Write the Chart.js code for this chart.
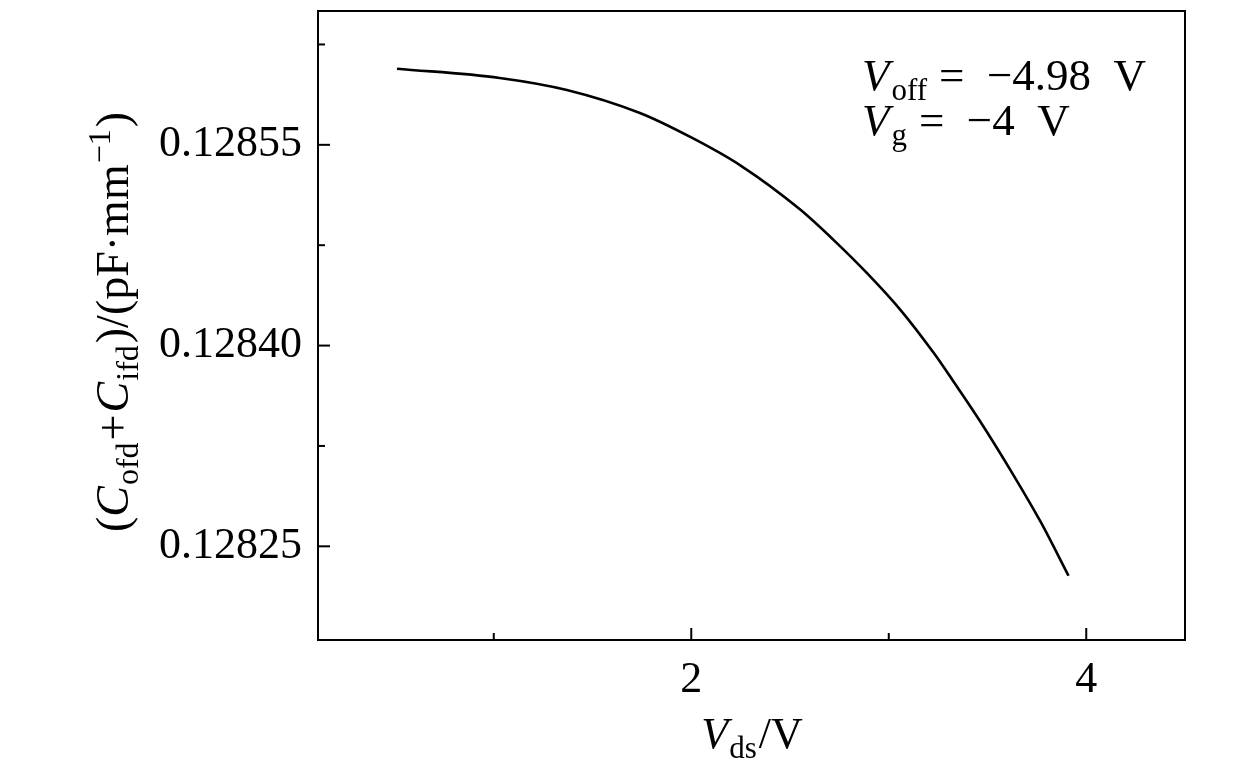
<!DOCTYPE html>
<html>
<head>
<meta charset="utf-8">
<script src="https://cdn.jsdelivr.net/npm/chart.js@4"></script>
<style>
  html, body { margin: 0; padding: 0; background: #fff; }
</style>
</head>
<body>
<canvas id="chart" width="1260" height="769"></canvas>
<script>
// Données
const vds = [0.51, 1.03, 1.37, 1.74, 2.00, 2.25, 2.55, 2.72, 2.89, 3.06, 3.23, 3.31, 3.46, 3.62, 3.77, 3.91];
const capa = [0.1286069, 0.1286000, 0.1285910, 0.1285738, 0.1285555, 0.1285345, 0.1285018, 0.128479,
  0.1284541, 0.1284265, 0.1283940, 0.128377, 0.128344, 0.128306, 0.128268, 0.128228];

const xMajor = [2, 4];
const xMinor = [1, 3];
const yMajor = [0.12825, 0.12840, 0.12855];
const yMinor = [0.128325, 0.128475, 0.128625];

const FONT = '"Liberation Serif", "DejaVu Serif", serif';

// Texte avec indices / exposants
function drawRich(ctx, parts, x, y, size, align) {
  const mesure = p => {
    ctx.font = (p.it ? 'italic ' : '') + Math.round(p.sub || p.sup ? size * 0.7 : size) + 'px ' + FONT;
    return ctx.measureText(p.t).width;
  };
  let total = 0;
  parts.forEach(p => total += mesure(p) + (p.gap || 0));
  let cx = align === 'center' ? x - total / 2 : x;
  parts.forEach(p => {
    const w = mesure(p);
    let dy = 0;
    if (p.sub) dy = size * 0.22;
    if (p.sup) dy = -size * 0.4;
    ctx.fillText(p.t, cx, y + dy);
    cx += w + (p.gap || 0);
  });
}

const cadre = {
  id: 'cadre',
  afterDraw(chart) {
    const ctx = chart.ctx;
    const a = chart.chartArea;
    const sx = chart.scales.x, sy = chart.scales.y;
    ctx.save();
    ctx.strokeStyle = '#000';
    ctx.lineWidth = 2;
    ctx.strokeRect(a.left, a.top, a.right - a.left, a.bottom - a.top);

    // graduations vers l'intérieur
    const trait = (x1, y1, x2, y2) => { ctx.beginPath(); ctx.moveTo(x1, y1); ctx.lineTo(x2, y2); ctx.stroke(); };
    xMajor.forEach(v => { const p = sx.getPixelForValue(v); trait(p, a.bottom, p, a.bottom - 12); });
    xMinor.forEach(v => { const p = sx.getPixelForValue(v); trait(p, a.bottom, p, a.bottom - 7); });
    yMajor.forEach(v => { const p = sy.getPixelForValue(v); trait(a.left, p, a.left + 12, p); });
    yMinor.forEach(v => { const p = sy.getPixelForValue(v); trait(a.left, p, a.left + 7, p); });

    ctx.fillStyle = '#000';
    ctx.textBaseline = 'alphabetic';
    ctx.textAlign = 'left';

    // titre axe x
    drawRich(ctx, [
      { t: 'V', it: true, gap: 1 }, { t: 'ds', sub: true, gap: 2 }, { t: '/V' }
    ], 752, 748, 44, 'center');

    // titre axe y
    ctx.save();
    ctx.translate(128, 322);
    ctx.rotate(-Math.PI / 2);
    drawRich(ctx, [
      { t: '(' }, { t: 'C', it: true, gap: 1 }, { t: 'ofd', sub: true, gap: 2 }, { t: '+', gap: 2 },
      { t: 'C', it: true, gap: 1 }, { t: 'ifd', sub: true, gap: 2 }, { t: ')/(pF·mm', gap: 1 }, { t: '−1', sup: true, gap: 2 }, { t: ')' }
    ], 0, 0, 46, 'center');
    ctx.restore();

    // annotation
    drawRich(ctx, [
      { t: 'V', it: true, gap: 2 }, { t: 'off', sub: true, gap: 12 }, { t: '=  −4.98  V' }
    ], 862, 90, 45, 'left');
    drawRich(ctx, [
      { t: 'V', it: true, gap: 2 }, { t: 'g', sub: true, gap: 12 }, { t: '=  −4  V' }
    ], 862, 135, 45, 'left');
    ctx.restore();
  }
};

new Chart(document.getElementById('chart'), {
  type: 'line',
  data: {
    datasets: [{
      data: vds.map((v, i) => ({ x: v, y: capa[i] })),
      borderColor: '#000',
      borderWidth: 2.6,
      pointRadius: 0,
      cubicInterpolationMode: 'monotone',
      fill: false
    }]
  },
  options: {
    responsive: false,
    animation: false,
    layout: { padding: { left: 0, right: 75, top: 11, bottom: 0 } },
    plugins: { legend: { display: false }, tooltip: { enabled: false } },
    scales: {
      x: {
        type: 'linear',
        min: 0.11,
        max: 4.5,
        afterBuildTicks: s => { s.ticks = xMajor.map(v => ({ value: v })); },
        afterFit: s => { s.height = 129; s.paddingLeft = 0; s.paddingRight = 0; },
        grid: { display: false, drawTicks: false },
        border: { display: false },
        ticks: { color: '#000', padding: 14, font: { family: FONT, size: 44 }, maxRotation: 0 }
      },
      y: {
        type: 'linear',
        min: 0.12818,
        max: 0.12865,
        afterBuildTicks: s => { s.ticks = yMajor.map(v => ({ value: v })); },
        afterFit: s => { s.width = 318; s.paddingTop = 0; s.paddingBottom = 0; },
        grid: { display: false, drawTicks: false },
        border: { display: false },
        ticks: {
          color: '#000', padding: 16, font: { family: FONT, size: 44 },
          callback: v => v.toFixed(5)
        }
      }
    }
  },
  plugins: [cadre]
});
</script>
</body>
</html>
